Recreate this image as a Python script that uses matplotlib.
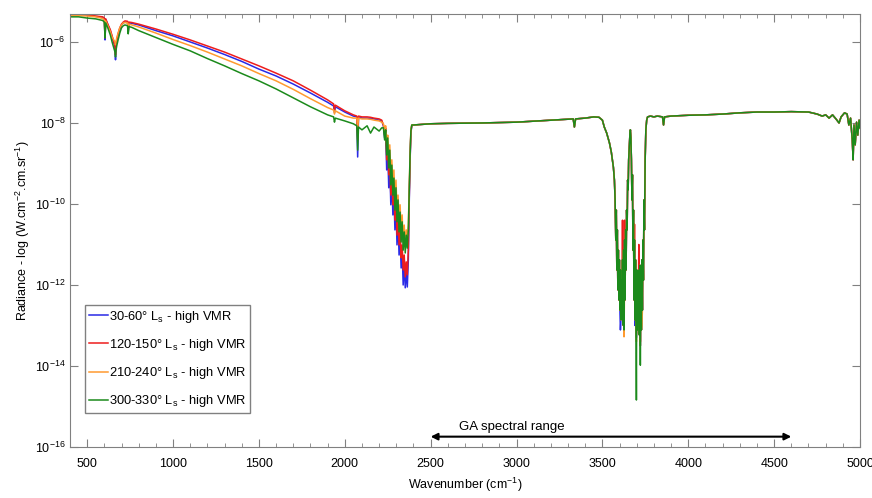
import numpy as np
import matplotlib.pyplot as plt
from matplotlib.ticker import FixedLocator, MultipleLocator, NullLocator, LogFormatterMathtext

plt.rcParams['font.family'] = ['Liberation Sans', 'DejaVu Sans']
plt.rcParams['mathtext.fontset'] = 'custom'
plt.rcParams['mathtext.rm'] = 'Liberation Sans'
plt.rcParams['mathtext.it'] = 'Liberation Sans:italic'

# -----------------------------------
# Data: wavenumber (cm-1) and log10 radiance
# -----------------------------------
# A: thermal part, 400-2215 cm-1
wn_a = [400, 450, 500, 550, 590, 600, 604, 608, 620, 635, 645, 655, 662, 665, 668,
        672, 680, 690, 700, 710, 720, 735, 739, 743, 760, 800, 900, 1000, 1100, 1200,
        1300, 1400, 1500, 1600, 1700, 1800, 1900, 1935, 1940, 1945, 2000, 2050, 2070,
        2075, 2080, 2100, 2130, 2150, 2170, 2200, 2215]
log_a_blue = [-5.32, -5.32, -5.34, -5.37, -5.39, -5.42, -5.95, -5.44, -5.57, -5.73, -5.88,
              -6.02, -6.12, -6.44, -6.07, -5.98, -5.83, -5.68, -5.58, -5.53, -5.51, -5.52,
              -5.78, -5.53, -5.54, -5.58, -5.72, -5.85, -6.00, -6.15, -6.31, -6.48, -6.67,
              -6.84, -7.04, -7.26, -7.49, -7.58, -7.75, -7.60, -7.73, -7.83, -7.85, -8.84,
              -7.85, -7.88, -7.88, -7.89, -7.90, -7.93, -7.95]
log_a_red = [-5.31, -5.31, -5.33, -5.36, -5.38, -5.41, -5.90, -5.43, -5.56, -5.70, -5.85,
             -6.00, -6.10, -6.32, -6.05, -5.95, -5.80, -5.65, -5.56, -5.51, -5.48, -5.49,
             -5.75, -5.51, -5.52, -5.56, -5.68, -5.81, -5.95, -6.10, -6.25, -6.42, -6.59,
             -6.77, -6.96, -7.19, -7.43, -7.53, -7.68, -7.56, -7.70, -7.80, -7.83, -8.42,
             -7.83, -7.85, -7.85, -7.86, -7.88, -7.90, -7.93]
log_a_orange = [-5.35, -5.35, -5.36, -5.38, -5.42, -5.46, -5.85, -5.48, -5.60, -5.75, -5.88,
                -5.95, -6.00, -6.07, -6.00, -5.90, -5.78, -5.65, -5.58, -5.53, -5.52, -5.53,
                -5.70, -5.56, -5.58, -5.63, -5.78, -5.94, -6.09, -6.25, -6.42, -6.59, -6.78,
                -6.96, -7.17, -7.40, -7.62, -7.68, -7.78, -7.70, -7.83, -7.88, -7.88, -8.12,
                -7.88, -7.90, -7.90, -7.91, -7.93, -7.95, -7.98]
log_a_green = [-5.38, -5.38, -5.41, -5.43, -5.47, -5.51, -5.90, -5.53, -5.65, -5.83, -6.00,
               -6.15, -6.25, -6.37, -6.20, -6.10, -5.95, -5.78, -5.65, -5.60, -5.58, -5.60,
               -5.80, -5.62, -5.64, -5.72, -5.89, -6.06, -6.22, -6.41, -6.59, -6.78, -6.96,
               -7.16, -7.38, -7.60, -7.80, -7.85, -7.98, -7.88, -7.95, -8.02, -8.07, -8.67,
               -8.10, -8.17, -8.07, -8.25, -8.10, -8.20, -8.12]

# B: CO2 4.3 um band
wn_b = [2225, 2232, 2238, 2244, 2250, 2256, 2262, 2268, 2274, 2280, 2286, 2292, 2298, 2304,
        2310, 2316, 2322, 2328, 2334, 2340, 2346, 2352, 2358, 2364, 2370, 2375, 2380, 2385,
        2390, 2396]
log_b_blue = [-8.07, -8.37, -8.17, -9.16, -8.67, -9.60, -9.04, -10.02, -9.41, -10.27, -9.78,
              -10.64, -10.02, -11.01, -10.40, -11.26, -10.77, -11.58, -11.14, -12.00, -11.43,
              -12.07, -11.63, -12.05, -11.38, -10.02, -8.96, -8.25, -8.07, -8.05]
log_b_red = [-8.05, -8.30, -8.12, -8.91, -8.54, -9.28, -8.91, -9.78, -9.28, -10.02, -9.65,
             -10.40, -9.90, -10.77, -10.27, -11.01, -10.64, -11.33, -11.01, -11.63, -11.26,
             -11.80, -11.43, -11.75, -11.14, -9.90, -8.91, -8.22, -8.07, -8.05]
log_b_orange = [-8.02, -8.17, -8.07, -8.54, -8.30, -8.91, -8.54, -9.28, -8.91, -9.53, -9.16,
                 -9.90, -9.41, -10.15, -9.78, -10.40, -10.02, -10.69, -10.27, -10.94, -10.52,
                 -11.06, -10.64, -10.89, -10.52, -9.65, -8.79, -8.17, -8.05, -8.05]
log_b_green = [-8.12, -8.42, -8.17, -8.79, -8.37, -9.11, -8.67, -9.53, -9.04, -9.78, -9.36,
               -10.15, -9.60, -10.44, -9.90, -10.69, -10.20, -10.94, -10.44, -11.14, -10.69,
               -11.21, -10.77, -11.09, -10.64, -9.70, -8.81, -8.20, -8.05, -8.05]

# C1: continuum 2400-3480 (same for all seasons)
wn_c1 = [2400, 2500, 2600, 2800, 3000, 3200, 3330, 3337, 3344, 3400, 3450, 3480]
log_c1 = [-8.05, -8.02, -8.01, -8.00, -7.98, -7.93, -7.90, -8.10, -7.90, -7.88, -7.85, -7.86]

# D: H2O / CO2 band near 2.7 um
wn_d = [3500, 3511, 3525, 3541, 3552, 3564, 3570, 3574, 3578, 3581, 3584, 3587, 3590, 3593,
        3596, 3599, 3602, 3605, 3608, 3611, 3614, 3617, 3620, 3623, 3626, 3629, 3632, 3635,
        3638, 3641, 3644, 3647, 3650, 3653, 3656, 3660, 3663, 3666, 3669, 3672, 3675, 3678,
        3681, 3684, 3687, 3690, 3693, 3696, 3698, 3700, 3703, 3706, 3709, 3712, 3715, 3718,
        3721, 3724, 3727, 3730, 3733, 3736, 3739, 3742, 3745, 3749, 3753, 3758, 3763]
log_d_green = [-7.93, -8.10, -8.25, -8.49, -8.72, -9.09, -9.41, -9.90, -10.89, -10.15, -11.63,
               -10.64, -12.12, -11.14, -12.37, -11.38, -12.62, -11.63, -12.86, -11.88, -12.74,
               -11.38, -12.99, -11.14, -13.11, -10.89, -12.37, -10.64, -11.63, -10.15, -10.64,
               -9.41, -9.65, -8.91, -8.67, -8.30, -8.17, -8.37, -8.91, -9.90, -9.28, -11.14,
               -10.15, -12.37, -10.89, -12.86, -11.38, -12.62, -14.84, -11.63, -13.11, -11.88,
               -12.86, -11.63, -13.23, -11.51, -13.98, -11.88, -13.11, -11.38, -12.62, -10.89,
               -11.88, -9.90, -10.64, -8.91, -8.17, -7.93, -7.85]
log_d_blue = [-7.93, -8.10, -8.25, -8.49, -8.72, -9.09, -9.41, -9.90, -10.89, -10.15, -11.63,
              -10.64, -12.12, -11.14, -12.37, -11.38, -12.62, -13.11, -12.86, -11.88, -12.74,
              -11.38, -12.99, -11.14, -12.90, -10.89, -12.37, -10.64, -11.63, -10.15, -10.64,
              -9.41, -9.65, -8.91, -8.67, -8.30, -8.17, -8.37, -8.91, -9.90, -9.28, -11.14,
              -10.15, -12.37, -10.89, -13.00, -11.38, -12.62, -13.30, -11.63, -13.11, -11.88,
              -12.86, -11.63, -13.23, -11.51, -13.50, -11.88, -13.11, -11.38, -12.62, -10.89,
              -11.88, -9.90, -10.64, -8.91, -8.17, -7.93, -7.85]
log_d_red = [-7.93, -8.10, -8.25, -8.49, -8.72, -9.09, -9.41, -9.90, -10.89, -10.15, -11.63,
             -10.64, -12.12, -11.14, -12.37, -11.38, -12.62, -11.63, -12.86, -11.88, -12.74,
             -10.40, -12.99, -11.14, -13.00, -10.40, -12.37, -10.64, -11.63, -10.15, -10.64,
             -9.41, -9.65, -8.91, -8.67, -8.30, -8.17, -8.37, -8.91, -9.90, -9.28, -11.14,
             -10.15, -12.37, -10.50, -12.86, -11.38, -12.62, -13.20, -11.63, -13.11, -11.88,
             -12.86, -11.00, -13.23, -11.51, -13.40, -11.88, -13.11, -11.38, -12.62, -10.89,
             -11.88, -9.90, -10.64, -8.91, -8.17, -7.93, -7.85]
log_d_orange = [-7.93, -8.10, -8.25, -8.49, -8.72, -9.09, -9.41, -9.90, -10.89, -10.15, -11.63,
                -10.64, -12.12, -11.14, -12.37, -11.38, -12.62, -11.63, -12.86, -11.88, -12.74,
                -11.38, -12.99, -11.14, -13.28, -12.00, -12.37, -10.64, -11.63, -10.15, -10.64,
                -9.41, -9.65, -8.91, -8.67, -8.30, -8.17, -8.37, -8.91, -9.90, -9.28, -11.14,
                -10.15, -12.37, -10.89, -12.86, -11.38, -12.62, -13.40, -11.63, -13.11, -11.88,
                -12.86, -11.63, -13.23, -11.51, -13.50, -11.88, -13.11, -13.00, -12.62, -10.89,
                -11.88, -9.90, -10.64, -8.91, -8.17, -7.93, -7.85]

# C2: continuum 3780-5000 (same for all seasons)
wn_c2 = [3780, 3800, 3820, 3850, 3856, 3862, 3900, 4000, 4100, 4200, 4300, 4400, 4500, 4600,
         4700, 4750, 4780, 4800, 4820, 4840, 4860, 4878, 4890, 4910, 4925, 4935, 4945, 4955,
         4960, 4965, 4972, 4980, 4987, 4995, 5000]
log_c2 = [-7.83, -7.85, -7.83, -7.85, -8.05, -7.85, -7.83, -7.81, -7.80, -7.78, -7.75, -7.73,
          -7.73, -7.72, -7.73, -7.78, -7.83, -7.80, -7.88, -7.80, -7.90, -8.00, -7.85, -7.75,
          -7.78, -8.05, -7.88, -8.42, -8.91, -8.05, -8.54, -7.98, -8.30, -7.93, -8.12]

labels = ["30-60\u00b0 L$_\\mathrm{s}$ - high VMR", "120-150\u00b0 L$_\\mathrm{s}$ - high VMR",
          "210-240\u00b0 L$_\\mathrm{s}$ - high VMR", "300-330\u00b0 L$_\\mathrm{s}$ - high VMR"]
colors = ["#2a2ae6", "#ee1c1c", "#ff9a30", "#1b8a1b"]

series = [
    (log_a_blue, log_b_blue, log_d_blue),
    (log_a_red, log_b_red, log_d_red),
    (log_a_orange, log_b_orange, log_d_orange),
    (log_a_green, log_b_green, log_d_green),
]

# -----------------------------------
# Plot
# -----------------------------------
fig = plt.figure(figsize=(8.72, 4.98), dpi=100)
ax = fig.add_axes([70 / 872, 51 / 498, 790 / 872, 433 / 498])

wn_all = wn_a + wn_b + wn_c1 + wn_d + wn_c2
for (la, lb, ld), col, lab in zip(series, colors, labels):
    logs = la + lb + log_c1 + ld + log_c2
    ax.plot(wn_all, 10.0 ** np.array(logs), color=col, lw=1.1, label=lab)

ax.set_yscale("log")
ax.set_xlim(400, 5000)
ax.set_ylim(1e-16, 4.9e-6)

ax.xaxis.set_major_locator(MultipleLocator(500))
ax.xaxis.set_minor_locator(MultipleLocator(100))
ax.yaxis.set_major_locator(FixedLocator([1e-16, 1e-14, 1e-12, 1e-10, 1e-8, 1e-6]))
ax.yaxis.set_major_formatter(LogFormatterMathtext())
ax.yaxis.set_minor_locator(NullLocator())
ax.tick_params(which="both", direction="in", top=True, right=True, color="#808080",
               labelsize=9)
ax.tick_params(which="major", length=6)
ax.tick_params(which="minor", length=3)
ax.tick_params(axis="x", pad=8)
for sp in ax.spines.values():
    sp.set_color("#808080")

ax.set_xlabel("Wavenumber (cm$^{-1}$)", fontsize=9, labelpad=4)
ax.set_ylabel("Radiance - log (W.cm$^{-2}$.cm.sr$^{-1}$)", fontsize=9, labelpad=2)

# GA spectral range arrow
ax.annotate("", xy=(2500, 1.8e-16), xytext=(4600, 1.8e-16),
            arrowprops=dict(arrowstyle="<|-|>", color="black", lw=1.5,
                            shrinkA=0, shrinkB=0, mutation_scale=10))
ax.text(2970, 3.1e-16, "GA spectral range", fontsize=9.5, ha="center", va="center")

leg = ax.legend(loc="lower left", bbox_to_anchor=(0.019, 0.078), borderaxespad=0,
                fontsize=9.3, handlelength=1.5, handletextpad=0.05, labelspacing=0.95,
                fancybox=False, framealpha=1, edgecolor="#808080", borderpad=0.3)
leg.get_frame().set_linewidth(1.0)

fig.savefig("out.png", dpi=100)
